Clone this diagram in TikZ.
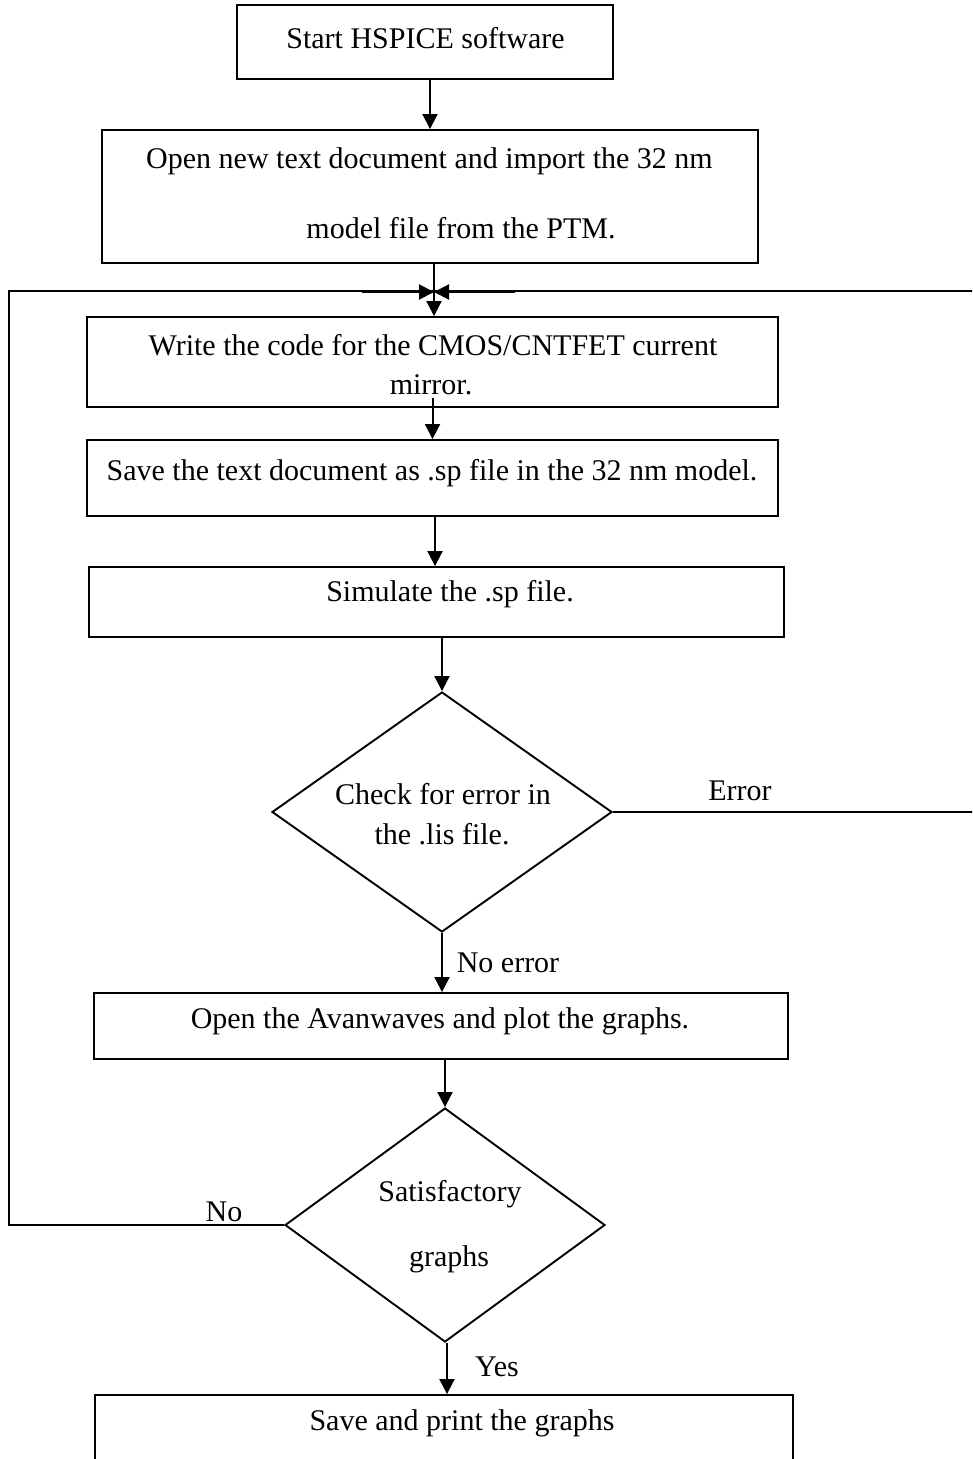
\documentclass[tikz,border=0pt]{standalone}
\usepackage{fontspec}
\setmainfont{Liberation Serif}
\usetikzlibrary{arrows.meta,shapes.geometric}
\begin{document}
\begin{tikzpicture}[x=1pt,y=-1pt,
  every node/.style={font=\fontsize{30}{36}\selectfont},
  box/.style={draw,line width=1.9pt,inner sep=0pt},
  dia/.style={draw,diamond,line width=1.9pt,inner sep=0pt},
  txt/.style={inner sep=0pt},
  arr/.style={line width=2pt,-{Triangle[length=15pt,width=15pt]}},
  ln/.style={line width=2pt}]
\useasboundingbox (0,0) rectangle (972,1459);
\clip (0,0) rectangle (972,1459);
% boxes
\node[box,minimum width=376pt,minimum height=74pt] (b1) at (425,42) {};
\node[box,minimum width=656pt,minimum height=133pt] (b2) at (430,196.5) {};
\node[box,minimum width=691pt,minimum height=90pt] (b3) at (432.5,362) {};
\node[box,minimum width=691pt,minimum height=76pt] (b4) at (432.5,478) {};
\node[box,minimum width=695pt,minimum height=70pt] (b5) at (436.5,602) {};
\node[dia,minimum width=340pt,minimum height=240pt] (d1) at (442,812) {};
\node[box,minimum width=694pt,minimum height=66pt] (b6) at (441,1026) {};
\node[dia,minimum width=320pt,minimum height=234pt] (d2) at (445,1225) {};
\node[box,minimum width=698pt,minimum height=100pt] (b7) at (444,1445) {};
% texts
\node[txt] (t1) at (425.5,38) {Start HSPICE software};
\node[txt] (t2a) at (429.5,161) {Open new text document and import the 32 nm};
\node[txt] (t2b) at (461,228) {model file from the PTM.};
\node[txt] (t3a) at (433,345) {Write the code for the CMOS/CNTFET current};
\node[txt] (t3b) at (431,385) {mirror.};
\node[txt] (t4) at (432,473) {Save the text document as .sp file in the 32 nm model.};
\node[txt] (t5) at (450,594) {Simulate the .sp file.};
\node[txt] (t6a) at (443,794) {Check for error in};
\node[txt] (t6b) at (442,834) {the .lis file.};
\node[txt] (t7) at (440,1021) {Open the Avanwaves and plot the graphs.};
\node[txt] (t8a) at (450,1194) {Satisfactory};
\node[txt] (t8b) at (449,1259) {graphs};
\node[txt] (t9) at (462,1423) {Save and print the graphs};
% labels
\node[txt] (lerr) at (740,791) {Error};
\node[txt] (lnoerr) at (508,963) {No error};
\node[txt] (lno) at (224,1212) {No};
\node[txt] (lyes) at (497,1367) {Yes};
% coordinates
\coordinate (j) at (434,292);
\coordinate (jl) at (362,292);
\coordinate (jr) at (515,292);
\coordinate (lt) at (9,291);
\coordinate (rt) at (976,291);
% connectors
\draw[arr] ([xshift=5pt]b1.south) -- ([xshift=5pt]b1.south |- b2.north);
\draw[ln] (d2.west) -| (lt) -- (rt) |- (d1.east);
\draw[arr] (jl) -- (j);
\draw[arr] (jr) -- (j);
\draw[arr] (b2.south -| j) -- (b3.north -| j);
\draw[arr] ([yshift=10pt]b3.south) -- (b4.north);
\draw[arr] ([xshift=2.5pt]b4.south) -- ([xshift=2.5pt]b4.south |- b5.north);
\draw[arr] (b5.south -| d1.north) -- (d1.north);
\draw[arr] (d1.south) -- (d1.south |- b6.north);
\draw[arr] (b6.south -| d2.north) -- (d2.north);
\draw[arr] ([xshift=2pt]d2.south) -- ([xshift=2pt]d2.south |- b7.north);
\end{tikzpicture}
\end{document}
